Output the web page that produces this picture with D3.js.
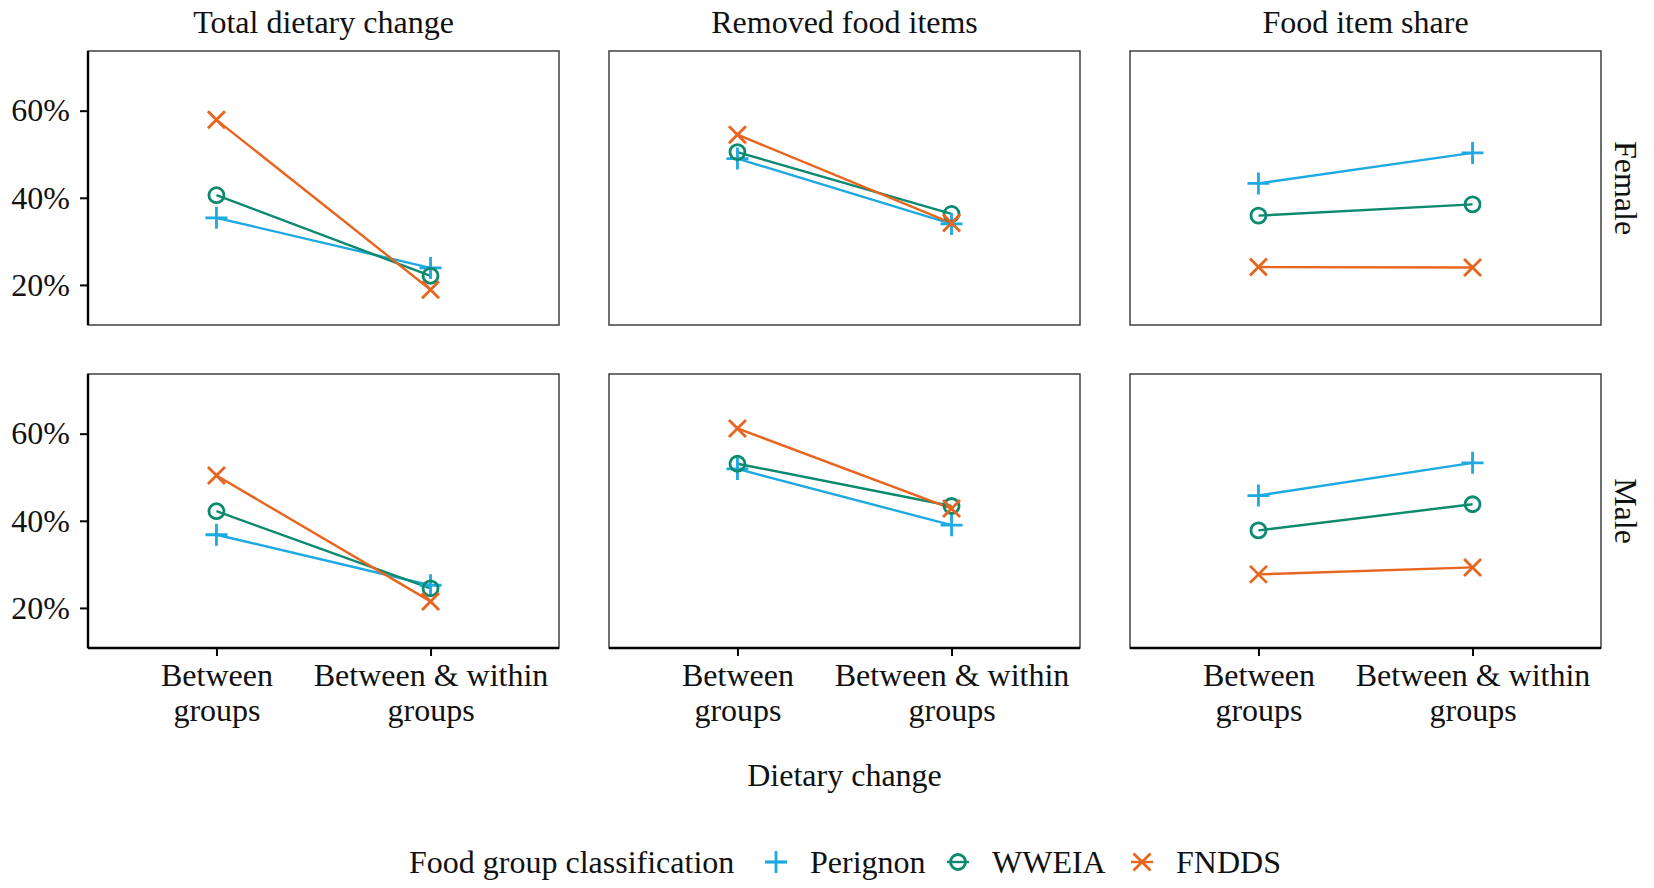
<!DOCTYPE html>
<html>
<head>
<meta charset="utf-8">
<script src="https://cdn.jsdelivr.net/npm/d3@7"></script>
<style>
  html, body { margin: 0; padding: 0; background: #fff; }
  svg { display: block; }
  text { font-family: "Liberation Serif", "Times New Roman", serif; fill: #111; }
</style>
</head>
<body>
<svg id="chart" width="1654" height="888"></svg>
<script>
// ---------- data ----------
const categories = ["Between groups", "Between & within groups"];
const categoryLines = [["Between", "groups"], ["Between & within", "groups"]];
const facetTitles = ["Total dietary change", "Removed food items", "Food item share"];
const sexes = ["Female", "Male"];
const seriesNames = ["Perignon", "WWEIA", "FNDDS"];
const yTicks = [0.2, 0.4, 0.6];
// values ordered: Female(Total, Removed, Share) then Male(Total, Removed, Share); each [Between, Between & within]
const perignonValues = [0.354, 0.239, 0.490, 0.340, 0.433, 0.503, 0.368, 0.252, 0.519, 0.390, 0.458, 0.533];
const wweiaValues    = [0.406, 0.221, 0.505, 0.363, 0.359, 0.385, 0.422, 0.245, 0.531, 0.434, 0.378, 0.438];
const fnddsValues    = [0.579, 0.189, 0.545, 0.342, 0.241, 0.240, 0.504, 0.215, 0.612, 0.428, 0.277, 0.293];

const seriesValues = [perignonValues, wweiaValues, fnddsValues];
const colors = ["#1DA9E2", "#0C8A6E", "#E8651F"];
const shapes = ["plus", "circle", "cross"];

// ---------- layout ----------
const svg = d3.select("#chart");
const colX = [88, 609, 1130];
const rowY = [51, 374];
const pw = 471, ph = 274;
const FS = 32;

const x = d3.scalePoint().domain(categories).range([0, pw]).padding(0.6);
const y = d3.scaleLinear().domain([0.108, 0.737]).range([ph, 0]);

function drawShape(g, shape, color) {
  if (shape === "plus") {
    g.append("path").attr("d", "M-11,0H11M0,-11V11")
      .attr("stroke", color).attr("stroke-width", 2.8).attr("fill", "none");
  } else if (shape === "circle") {
    g.append("circle").attr("r", 7.5)
      .attr("stroke", color).attr("stroke-width", 2.8).attr("fill", "none");
  } else {
    g.append("path").attr("d", "M-8.5,-8.5L8.5,8.5M-8.5,8.5L8.5,-8.5")
      .attr("stroke", color).attr("stroke-width", 2.8).attr("fill", "none");
  }
}

sexes.forEach((sex, r) => {
  facetTitles.forEach((ft, c) => {
    const g = svg.append("g").attr("transform", `translate(${colX[c]},${rowY[r]})`);
    // panel border
    g.append("rect").attr("x", 0).attr("y", 0).attr("width", pw).attr("height", ph)
      .attr("fill", "#fff").attr("stroke", "#333").attr("stroke-width", 1.4);

    const base = r * 6 + c * 2;
    // lines
    seriesValues.forEach((vals, s) => {
      const pts = categories.map((cat, i) => [x(cat), y(vals[base + i])]);
      g.append("path").attr("d", d3.line()(pts))
        .attr("stroke", colors[s]).attr("stroke-width", 2.4).attr("fill", "none");
    });
    // points
    seriesValues.forEach((vals, s) => {
      categories.forEach((cat, i) => {
        const pg = g.append("g").attr("transform", `translate(${x(cat)},${y(vals[base + i])})`);
        drawShape(pg, shapes[s], colors[s]);
      });
    });

    // y axis on first column
    if (c === 0) {
      const ya = g.append("g").call(d3.axisLeft(y).tickValues(yTicks).tickFormat(d3.format(".0%")).tickSize(8).tickPadding(10));
      ya.select(".domain").attr("stroke", "#000").attr("stroke-width", 2.4).attr("d", `M0,0V${ph}`);
      ya.selectAll(".tick line").attr("stroke", "#000").attr("stroke-width", 2);
      ya.selectAll(".tick text").attr("font-size", FS).attr("fill", "#111")
        .style("font-family", '"Liberation Serif", serif');
    }
    // x axis on bottom row
    if (r === 1) {
      const xa = g.append("g").attr("transform", `translate(0,${ph})`)
        .call(d3.axisBottom(x).tickSize(8).tickFormat(""));
      xa.select(".domain").attr("stroke", "#000").attr("stroke-width", 2.4).attr("d", `M0,0H${pw}`);
      xa.selectAll(".tick line").attr("stroke", "#000").attr("stroke-width", 2);
      xa.selectAll(".tick").each(function(d, i) {
        const t = d3.select(this).append("text").attr("text-anchor", "middle")
          .attr("font-size", FS).attr("fill", "#111");
        categoryLines[i].forEach((ln, k) => {
          t.append("tspan").attr("x", 0).attr("y", 38 + k * 35).text(ln);
        });
      });
    }
    // column strip titles
    if (r === 0) {
      svg.append("text").attr("x", colX[c] + pw / 2).attr("y", 33)
        .attr("text-anchor", "middle").attr("font-size", FS).text(ft);
    }
  });
  // row strip labels
  svg.append("text")
    .attr("transform", `translate(${1615},${rowY[r] + ph / 2}) rotate(90)`)
    .attr("text-anchor", "middle").attr("font-size", FS).text(sex);
});

// x axis title
svg.append("text").attr("x", (colX[0] + colX[2] + pw) / 2).attr("y", 786)
  .attr("text-anchor", "middle").attr("font-size", FS).text("Dietary change");

// legend
const lg = svg.append("g").attr("transform", "translate(0,862)");
lg.append("text").attr("x", 409).attr("y", 11).attr("font-size", FS).text("Food group classification");
const keyX = [776, 958, 1142];
seriesNames.forEach((name, s) => {
  const kg = lg.append("g").attr("transform", `translate(${keyX[s]},0)`);
  kg.append("path").attr("d", "M-11,0H11").attr("stroke", colors[s]).attr("stroke-width", 2.4);
  drawShape(kg, shapes[s], colors[s]);
  lg.append("text").attr("x", keyX[s] + 34).attr("y", 11).attr("font-size", FS).text(name);
});
</script>
</body>
</html>
